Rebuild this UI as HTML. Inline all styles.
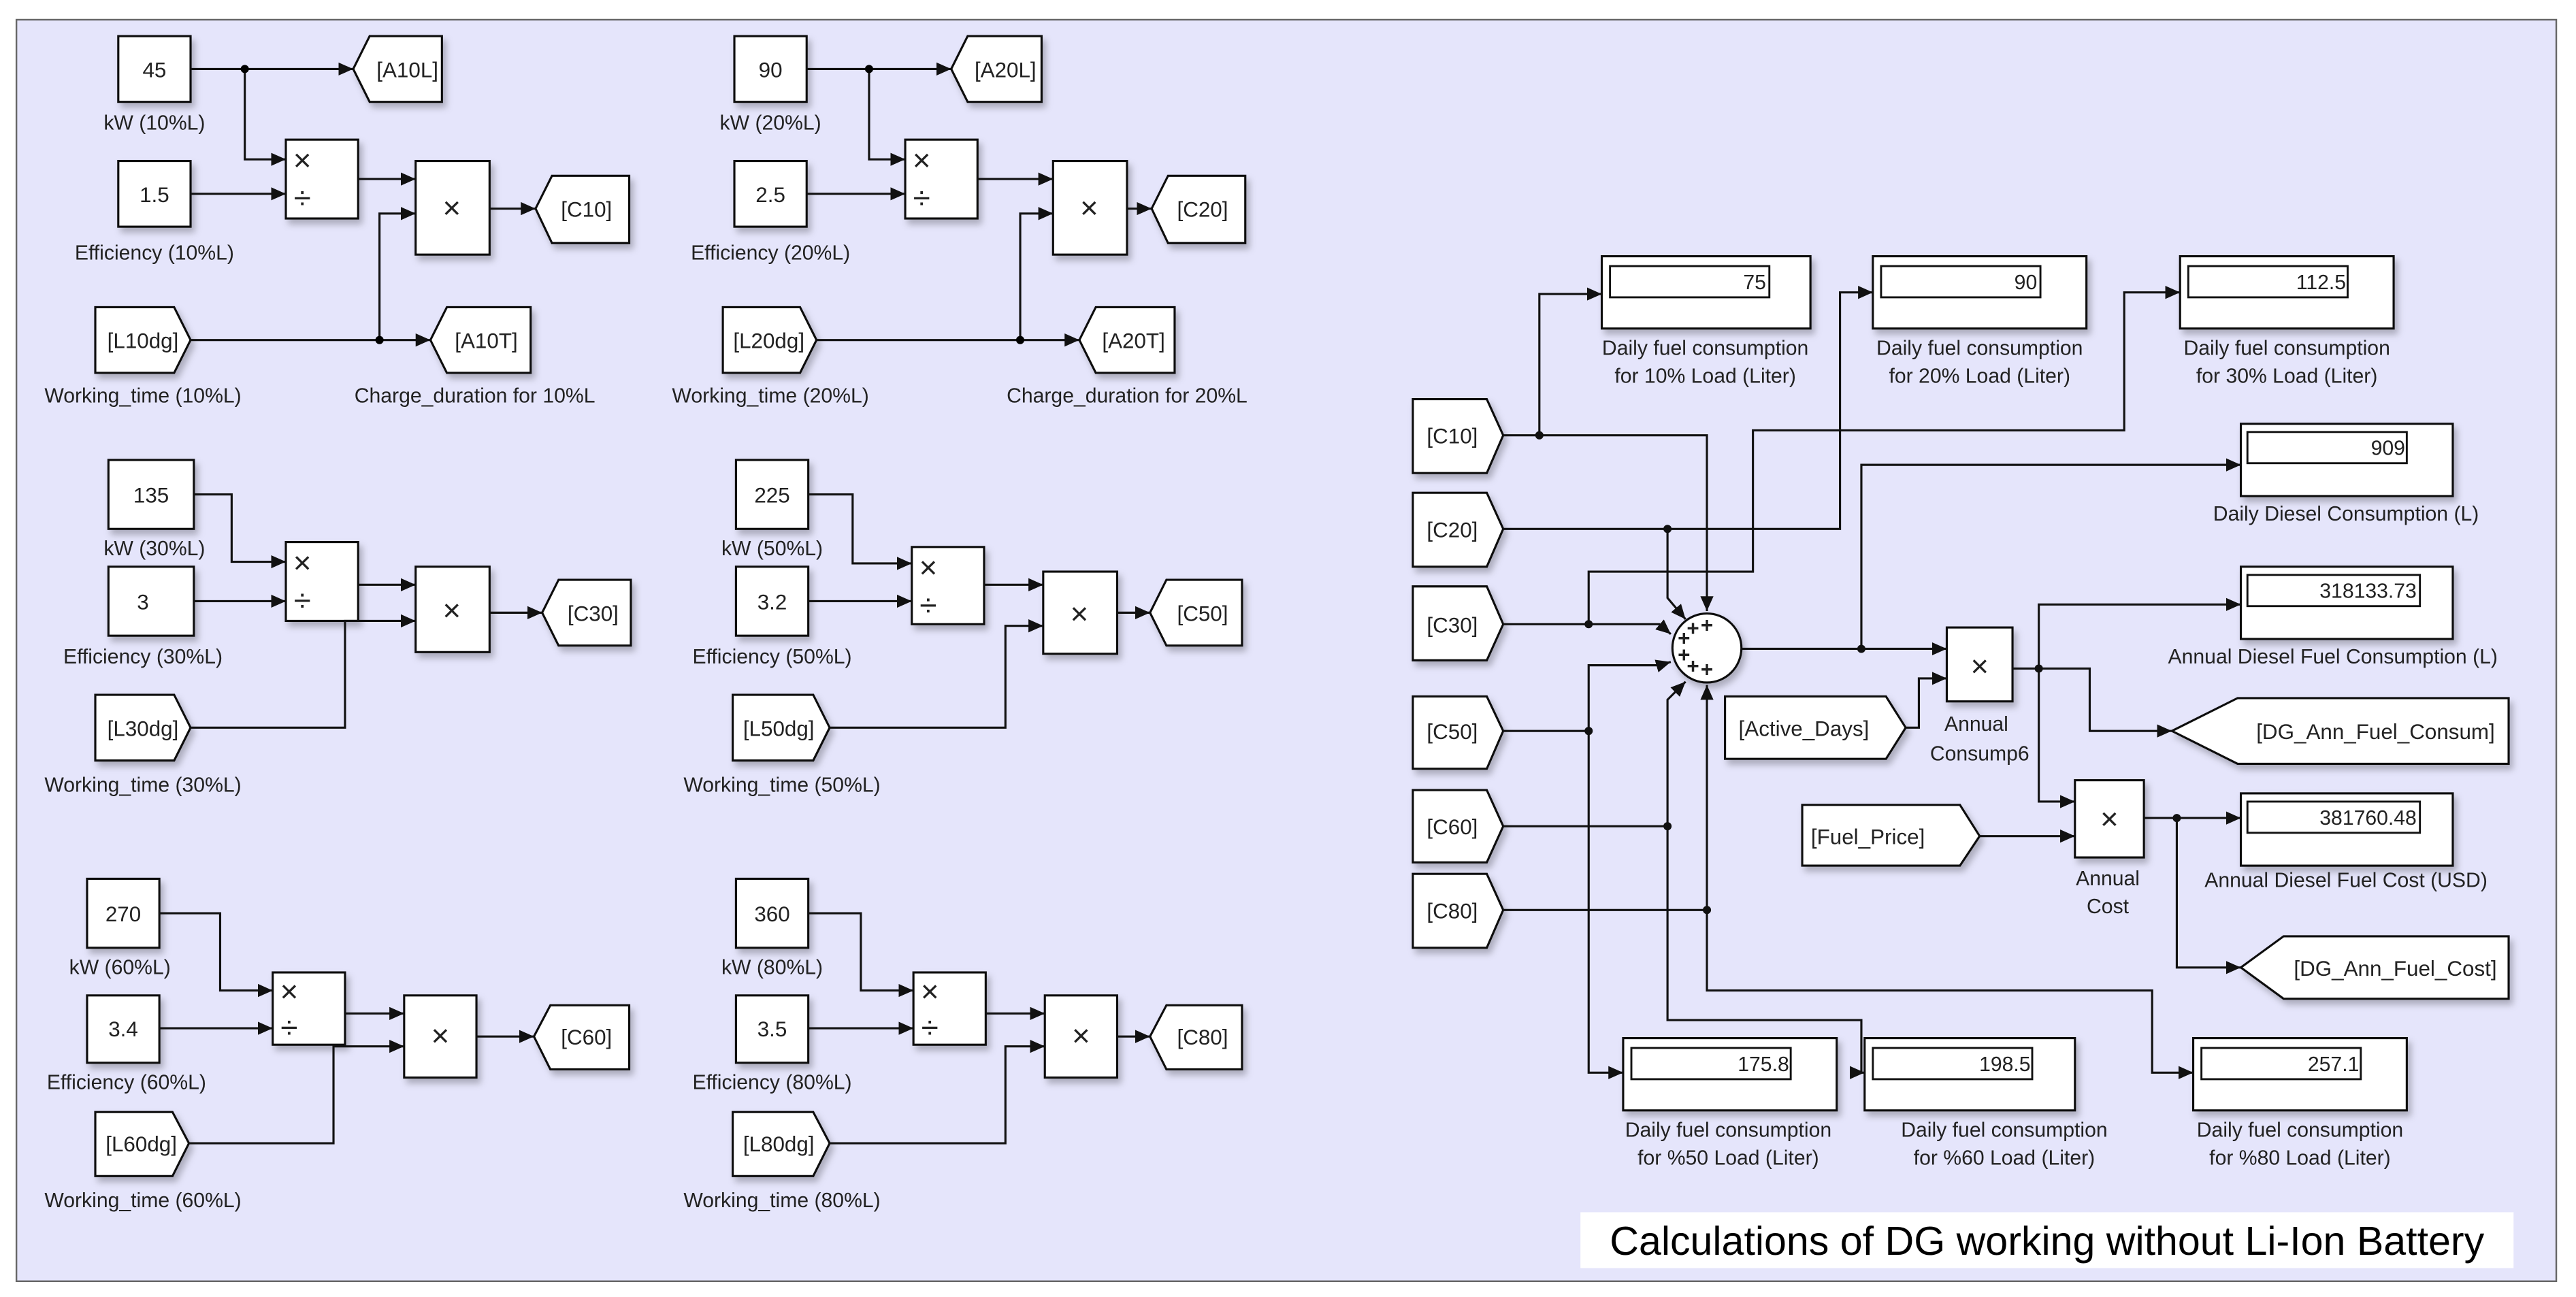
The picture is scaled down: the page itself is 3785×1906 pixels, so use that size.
<!DOCTYPE html>
<html><head><meta charset="utf-8"><style>
html,body{margin:0;padding:0;background:#fff;width:3785px;height:1906px;overflow:hidden}
svg{display:block}
text{font-family:"Liberation Sans",sans-serif;fill:#222}
.b{fill:#fff;stroke:#111;stroke-width:1.3;filter:url(#sh)}
.l{fill:none;stroke:#111;stroke-width:1.3}
.t{font-size:12.5px;text-anchor:middle}
.v{font-size:13px;text-anchor:middle}
.x{font-size:19px;text-anchor:middle}
.n{font-size:12.5px;text-anchor:end}
</style></head><body>
<svg width="3785" height="1906" viewBox="0 0 1568 789.6" preserveAspectRatio="none" xmlns="http://www.w3.org/2000/svg">
<defs>
<marker id="a" markerUnits="userSpaceOnUse" markerWidth="10" markerHeight="10" refX="9" refY="5" orient="auto"><path d="M0,1 L9,5 L0,9 Z" fill="#111"/></marker>
<filter id="sh" x="-20%" y="-20%" width="150%" height="150%"><feDropShadow dx="2" dy="3" stdDeviation="2" flood-color="#000" flood-opacity="0.25"/></filter>
</defs>
<rect x="0" y="0" width="1568" height="790" fill="#fff"/>
<rect x="10" y="12" width="1546" height="768" fill="#e5e5fb" stroke="#666" stroke-width="1"/>

<!-- ===== Block 10% ===== -->
<rect class="b" x="72" y="22" width="44" height="40"/><text class="v" x="94" y="47">45</text>
<text class="t" x="94" y="79">kW (10%L)</text>
<rect class="b" x="72" y="98" width="44" height="40"/><text class="v" x="94" y="123">1.5</text>
<text class="t" x="94" y="158">Efficiency (10%L)</text>
<polygon class="b" points="215,42 225,22 269,22 269,62 225,62"/><text class="v" x="248" y="47">[A10L]</text>
<rect class="b" x="174" y="85" width="44" height="48"/><text class="x" x="184" y="104">×</text><text class="x" x="184" y="127">÷</text>
<rect class="b" x="253" y="98" width="45" height="57"/><text class="x" x="275" y="133">×</text>
<polygon class="b" points="326,127 336,107 383,107 383,148 336,148"/><text class="v" x="357" y="132">[C10]</text>
<polygon class="b" points="58,187 106,187 116,207 106,227 58,227"/><text class="v" x="87" y="212">[L10dg]</text>
<polygon class="b" points="262,207 272,187 323,187 323,227 272,227"/><text class="v" x="296" y="212">[A10T]</text>
<text class="t" x="87" y="245">Working_time (10%L)</text>
<text class="t" x="289" y="245">Charge_duration for 10%L</text>
<path class="l" d="M116,42 H215" marker-end="url(#a)"/>
<path class="l" d="M149,42 V97 H174" marker-end="url(#a)"/>
<path class="l" d="M116,118 H174" marker-end="url(#a)"/>
<path class="l" d="M218,109 H253" marker-end="url(#a)"/>
<path class="l" d="M116,207 H262" marker-end="url(#a)"/>
<path class="l" d="M231,207 V130 H253" marker-end="url(#a)"/>
<path class="l" d="M298,127 H326" marker-end="url(#a)"/>
<circle cx="149" cy="42" r="2.5"/><circle cx="231" cy="207" r="2.5"/>

<!-- ===== Block 20% ===== -->
<rect class="b" x="447" y="22" width="44" height="40"/><text class="v" x="469" y="47">90</text>
<text class="t" x="469" y="79">kW (20%L)</text>
<rect class="b" x="447" y="98" width="44" height="40"/><text class="v" x="469" y="123">2.5</text>
<text class="t" x="469" y="158">Efficiency (20%L)</text>
<polygon class="b" points="579,42 589,22 634,22 634,62 589,62"/><text class="v" x="612" y="47">[A20L]</text>
<rect class="b" x="551" y="85" width="44" height="48"/><text class="x" x="561" y="104">×</text><text class="x" x="561" y="127">÷</text>
<rect class="b" x="641" y="98" width="45" height="57"/><text class="x" x="663" y="133">×</text>
<polygon class="b" points="701,127 711,107 758,107 758,148 711,148"/><text class="v" x="732" y="132">[C20]</text>
<polygon class="b" points="440,187 487,187 497,207 487,227 440,227"/><text class="v" x="468" y="212">[L20dg]</text>
<polygon class="b" points="657,207 667,187 715,187 715,227 667,227"/><text class="v" x="690" y="212">[A20T]</text>
<text class="t" x="469" y="245">Working_time (20%L)</text>
<text class="t" x="686" y="245">Charge_duration for 20%L</text>
<path class="l" d="M491,42 H579" marker-end="url(#a)"/>
<path class="l" d="M529,42 V97 H551" marker-end="url(#a)"/>
<path class="l" d="M491,118 H551" marker-end="url(#a)"/>
<path class="l" d="M595,109 H641" marker-end="url(#a)"/>
<path class="l" d="M497,207 H657" marker-end="url(#a)"/>
<path class="l" d="M621,207 V130 H641" marker-end="url(#a)"/>
<path class="l" d="M686,127 H701" marker-end="url(#a)"/>
<circle cx="529" cy="42" r="2.5"/><circle cx="621" cy="207" r="2.5"/>

<!-- ===== Block 30% ===== -->
<rect class="b" x="66" y="280" width="52" height="42"/><text class="v" x="92" y="306">135</text>
<text class="t" x="94" y="338">kW (30%L)</text>
<rect class="b" x="66" y="345" width="52" height="42"/><text class="v" x="87" y="371">3</text>
<text class="t" x="87" y="404">Efficiency (30%L)</text>
<rect class="b" x="174" y="330" width="44" height="48"/><text class="x" x="184" y="349">×</text><text class="x" x="184" y="372">÷</text>
<rect class="b" x="253" y="345" width="45" height="52"/><text class="x" x="275" y="378">×</text>
<polygon class="b" points="330,373 340,353 384,353 384,393 340,393"/><text class="v" x="361" y="378">[C30]</text>
<polygon class="b" points="58,423 106,423 116,443 106,463 58,463"/><text class="v" x="87" y="448">[L30dg]</text>
<text class="t" x="87" y="482">Working_time (30%L)</text>
<path class="l" d="M118,301 H141 V342 H174" marker-end="url(#a)"/>
<path class="l" d="M118,366 H174" marker-end="url(#a)"/>
<path class="l" d="M218,356 H253" marker-end="url(#a)"/>
<path class="l" d="M116,443 H210 V378 H253" marker-end="url(#a)"/>
<path class="l" d="M298,373 H330" marker-end="url(#a)"/>

<!-- ===== Block 50% ===== -->
<rect class="b" x="448" y="280" width="44" height="42"/><text class="v" x="470" y="306">225</text>
<text class="t" x="470" y="338">kW (50%L)</text>
<rect class="b" x="448" y="345" width="44" height="42"/><text class="v" x="470" y="371">3.2</text>
<text class="t" x="470" y="404">Efficiency (50%L)</text>
<rect class="b" x="555" y="333" width="44" height="47"/><text class="x" x="565" y="352">×</text><text class="x" x="565" y="375">÷</text>
<rect class="b" x="635" y="348" width="45" height="50"/><text class="x" x="657" y="380">×</text>
<polygon class="b" points="700,373 710,353 756,353 756,393 710,393"/><text class="v" x="732" y="378">[C50]</text>
<polygon class="b" points="446,423 495,423 505,443 495,463 446,463"/><text class="v" x="474" y="448">[L50dg]</text>
<text class="t" x="476" y="482">Working_time (50%L)</text>
<path class="l" d="M492,301 H519 V343 H555" marker-end="url(#a)"/>
<path class="l" d="M492,366 H555" marker-end="url(#a)"/>
<path class="l" d="M599,356 H635" marker-end="url(#a)"/>
<path class="l" d="M505,443 H612 V381 H635" marker-end="url(#a)"/>
<path class="l" d="M680,373 H700" marker-end="url(#a)"/>

<!-- ===== Block 60% ===== -->
<rect class="b" x="53" y="535" width="44" height="42"/><text class="v" x="75" y="561">270</text>
<text class="t" x="73" y="593">kW (60%L)</text>
<rect class="b" x="53" y="606" width="44" height="41"/><text class="v" x="75" y="631">3.4</text>
<text class="t" x="77" y="663">Efficiency (60%L)</text>
<rect class="b" x="166" y="592" width="44" height="44"/><text class="x" x="176" y="610">×</text><text class="x" x="176" y="632">÷</text>
<rect class="b" x="246" y="606" width="44" height="50"/><text class="x" x="268" y="637">×</text>
<polygon class="b" points="325,631 335,612 383,612 383,651 335,651"/><text class="v" x="357" y="636">[C60]</text>
<polygon class="b" points="58,677 105,677 115,696 105,716 58,716"/><text class="v" x="86" y="701">[L60dg]</text>
<text class="t" x="87" y="735">Working_time (60%L)</text>
<path class="l" d="M97,556 H134 V603 H166" marker-end="url(#a)"/>
<path class="l" d="M97,626 H166" marker-end="url(#a)"/>
<path class="l" d="M210,617 H246" marker-end="url(#a)"/>
<path class="l" d="M115,696 H203 V637 H246" marker-end="url(#a)"/>
<path class="l" d="M290,631 H325" marker-end="url(#a)"/>

<!-- ===== Block 80% ===== -->
<rect class="b" x="448" y="535" width="44" height="42"/><text class="v" x="470" y="561">360</text>
<text class="t" x="470" y="593">kW (80%L)</text>
<rect class="b" x="448" y="606" width="44" height="41"/><text class="v" x="470" y="631">3.5</text>
<text class="t" x="470" y="663">Efficiency (80%L)</text>
<rect class="b" x="556" y="592" width="44" height="44"/><text class="x" x="566" y="610">×</text><text class="x" x="566" y="632">÷</text>
<rect class="b" x="636" y="606" width="44" height="50"/><text class="x" x="658" y="637">×</text>
<polygon class="b" points="700,631 710,612 756,612 756,651 710,651"/><text class="v" x="732" y="636">[C80]</text>
<polygon class="b" points="446,677 495,677 505,696 495,716 446,716"/><text class="v" x="474" y="701">[L80dg]</text>
<text class="t" x="476" y="735">Working_time (80%L)</text>
<path class="l" d="M492,556 H524 V603 H556" marker-end="url(#a)"/>
<path class="l" d="M492,626 H556" marker-end="url(#a)"/>
<path class="l" d="M600,617 H636" marker-end="url(#a)"/>
<path class="l" d="M505,696 H612 V637 H636" marker-end="url(#a)"/>
<path class="l" d="M680,631 H700" marker-end="url(#a)"/>

<!-- ===== Right section ===== -->
<polygon class="b" points="860,243 905,243 915,265 905,288 860,288"/><text class="v" x="884" y="270">[C10]</text>
<polygon class="b" points="860,300 905,300 915,322 905,345 860,345"/><text class="v" x="884" y="327">[C20]</text>
<polygon class="b" points="860,357 905,357 915,380 905,402 860,402"/><text class="v" x="884" y="385">[C30]</text>
<polygon class="b" points="860,424 905,424 915,445 905,468 860,468"/><text class="v" x="884" y="450">[C50]</text>
<polygon class="b" points="860,481 905,481 915,503 905,525 860,525"/><text class="v" x="884" y="508">[C60]</text>
<polygon class="b" points="860,532 905,532 915,554 905,577 860,577"/><text class="v" x="884" y="559">[C80]</text>

<!-- top displays -->
<rect class="b" x="975" y="156" width="127" height="44"/><rect x="980" y="162" width="97" height="19" fill="#fff" stroke="#111" stroke-width="1.2"/><text class="n" x="1075" y="176">75</text>
<text class="t" x="1038" y="216">Daily fuel consumption</text><text class="t" x="1038" y="233">for 10% Load (Liter)</text>
<rect class="b" x="1140" y="156" width="130" height="44"/><rect x="1145" y="162" width="97" height="19" fill="#fff" stroke="#111" stroke-width="1.2"/><text class="n" x="1240" y="176">90</text>
<text class="t" x="1205" y="216">Daily fuel consumption</text><text class="t" x="1205" y="233">for 20% Load (Liter)</text>
<rect class="b" x="1327" y="156" width="130" height="44"/><rect x="1332" y="162" width="97" height="19" fill="#fff" stroke="#111" stroke-width="1.2"/><text class="n" x="1428" y="176">112.5</text>
<text class="t" x="1392" y="216">Daily fuel consumption</text><text class="t" x="1392" y="233">for 30% Load (Liter)</text>

<!-- right displays -->
<rect class="b" x="1364" y="258" width="129" height="44"/><rect x="1368" y="263" width="97" height="19" fill="#fff" stroke="#111" stroke-width="1.2"/><text class="n" x="1464" y="277">909</text>
<text class="t" x="1428" y="317">Daily Diesel Consumption (L)</text>
<rect class="b" x="1364" y="345" width="129" height="44"/><rect x="1368" y="350" width="105" height="19" fill="#fff" stroke="#111" stroke-width="1.2"/><text class="n" x="1471" y="364">318133.73</text>
<text class="t" x="1420" y="404">Annual Diesel Fuel Consumption (L)</text>
<rect class="b" x="1364" y="483" width="129" height="44"/><rect x="1368" y="488" width="105" height="19" fill="#fff" stroke="#111" stroke-width="1.2"/><text class="n" x="1471" y="502">381760.48</text>
<text class="t" x="1428" y="540">Annual Diesel Fuel Cost (USD)</text>

<!-- bottom displays -->
<rect class="b" x="988" y="632" width="130" height="44"/><rect x="993" y="638" width="97" height="19" fill="#fff" stroke="#111" stroke-width="1.2"/><text class="n" x="1089" y="652">175.8</text>
<text class="t" x="1052" y="692">Daily fuel consumption</text><text class="t" x="1052" y="709">for %50 Load (Liter)</text>
<rect class="b" x="1135" y="632" width="128" height="44"/><rect x="1140" y="638" width="97" height="19" fill="#fff" stroke="#111" stroke-width="1.2"/><text class="n" x="1236" y="652">198.5</text>
<text class="t" x="1220" y="692">Daily fuel consumption</text><text class="t" x="1220" y="709">for %60 Load (Liter)</text>
<rect class="b" x="1335" y="632" width="130" height="44"/><rect x="1340" y="638" width="97" height="19" fill="#fff" stroke="#111" stroke-width="1.2"/><text class="n" x="1436" y="652">257.1</text>
<text class="t" x="1400" y="692">Daily fuel consumption</text><text class="t" x="1400" y="709">for %80 Load (Liter)</text>

<!-- sum -->
<circle class="b" cx="1039" cy="394.5" r="21"/>
<g font-size="13" font-weight="bold" text-anchor="middle"><text x="1039" y="385">+</text><text x="1030.5" y="387">+</text><text x="1025" y="393">+</text><text x="1025" y="403">+</text><text x="1030.5" y="410">+</text><text x="1039" y="412">+</text></g>

<!-- products -->
<rect class="b" x="1185" y="382" width="40" height="45"/><text class="x" x="1205" y="412">×</text>
<text class="t" x="1203" y="445">Annual</text><text class="t" x="1205" y="463">Consump6</text>
<rect class="b" x="1263" y="475" width="42" height="47"/><text class="x" x="1284" y="505">×</text>
<text class="t" x="1283" y="539">Annual</text><text class="t" x="1283" y="556">Cost</text>

<polygon class="b" points="1050,424 1148,424 1160,443 1148,462 1050,462"/><text class="v" x="1098" y="448">[Active_Days]</text>
<polygon class="b" points="1097,490 1193,490 1205,509 1193,527 1097,527"/><text class="v" x="1137" y="514">[Fuel_Price]</text>
<polygon class="b" points="1322,445 1362,425 1527,425 1527,465 1362,465"/><text class="v" x="1446" y="450">[DG_Ann_Fuel_Consum]</text>
<polygon class="b" points="1364,589 1390,570 1527,570 1527,608 1390,608"/><text class="v" x="1458" y="594">[DG_Ann_Fuel_Cost]</text>

<!-- connectors -->
<path class="l" d="M915,265 H1039 V372" marker-end="url(#a)"/>
<path class="l" d="M937,265 V179 H975" marker-end="url(#a)"/>
<path class="l" d="M915,322 H1120 V178 H1140" marker-end="url(#a)"/>
<path class="l" d="M1015,322 V364 L1026,377" marker-end="url(#a)"/>
<path class="l" d="M915,380 H1010 L1017,386" marker-end="url(#a)"/>
<path class="l" d="M967,380 V348 H1067 V262 H1293 V178 H1327" marker-end="url(#a)"/>
<path class="l" d="M915,445 H967"/>
<path class="l" d="M967,445 V405 H1010 L1017,403" marker-end="url(#a)"/>
<path class="l" d="M967,445 V653 H988" marker-end="url(#a)"/>
<path class="l" d="M915,503 H1015"/>
<path class="l" d="M1015,503 V426 L1026,415" marker-end="url(#a)"/>
<path class="l" d="M1015,503 V621 H1133 V653 H1135" marker-end="url(#a)"/>
<path class="l" d="M915,554 H1039"/>
<path class="l" d="M1039,554 V417" marker-end="url(#a)"/>
<path class="l" d="M1039,554 V603 H1310 V653 H1335" marker-end="url(#a)"/>
<path class="l" d="M1060,395 H1185" marker-end="url(#a)"/>
<path class="l" d="M1133,395 V283 H1364" marker-end="url(#a)"/>
<path class="l" d="M1160,443 H1168 V413 H1185" marker-end="url(#a)"/>
<path class="l" d="M1225,407 H1272 V445 H1322" marker-end="url(#a)"/>
<path class="l" d="M1241,407 V368 H1364" marker-end="url(#a)"/>
<path class="l" d="M1241,407 V488 H1263" marker-end="url(#a)"/>
<path class="l" d="M1205,509 H1263" marker-end="url(#a)"/>
<path class="l" d="M1305,498 H1364" marker-end="url(#a)"/>
<path class="l" d="M1325,498 V589 H1364" marker-end="url(#a)"/>
<g fill="#111"><circle cx="937" cy="265" r="2.5"/><circle cx="1015" cy="322" r="2.5"/><circle cx="967" cy="380" r="2.5"/><circle cx="967" cy="445" r="2.5"/><circle cx="1015" cy="503" r="2.5"/><circle cx="1039" cy="554" r="2.5"/><circle cx="1133" cy="395" r="2.5"/><circle cx="1241" cy="407" r="2.5"/><circle cx="1325" cy="498" r="2.5"/></g>

<!-- title -->
<rect x="962" y="738" width="568" height="34" fill="#fff"/>
<text x="1246" y="764" font-size="24.5" text-anchor="middle" style="fill:#000">Calculations of DG working without Li-Ion Battery</text>
</svg>
</body></html>
